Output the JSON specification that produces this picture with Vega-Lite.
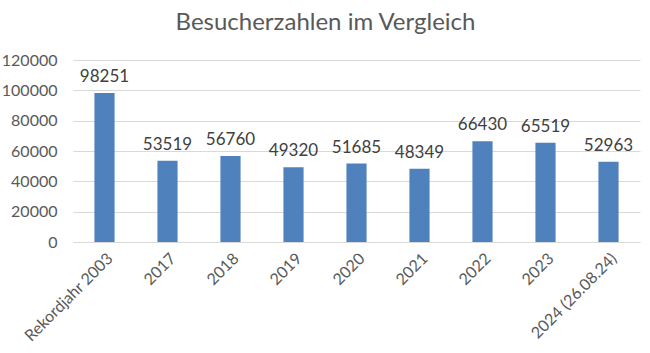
{
  "$schema": "https://vega.github.io/schema/vega-lite/v6.json",
  "autosize": "none",
  "width": 567,
  "height": 182,
  "padding": {"left": 73, "top": 60, "right": 10, "bottom": 111},
  "background": "white",
  "config": {"view": {"stroke": null}, "font": "Lato"},
  "title": {
    "text": "Besucherzahlen im Vergleich",
    "fontSize": 24,
    "font": "Lato",
    "fontWeight": "normal",
    "color": "#595959",
    "anchor": "middle",
    "dx": -31,
    "offset": 17
  },
  "data": {
    "values": [
      {"Jahr": "Rekordjahr 2003", "Besucher": 98251},
      {"Jahr": "2017", "Besucher": 53519},
      {"Jahr": "2018", "Besucher": 56760},
      {"Jahr": "2019", "Besucher": 49320},
      {"Jahr": "2020", "Besucher": 51685},
      {"Jahr": "2021", "Besucher": 48349},
      {"Jahr": "2022", "Besucher": 66430},
      {"Jahr": "2023", "Besucher": 65519},
      {"Jahr": "2024 (26.08.24)", "Besucher": 52963}
    ]
  },
  "encoding": {
    "x": {
      "field": "Jahr",
      "type": "nominal",
      "sort": null,
      "scale": {"paddingInner": 0.68, "paddingOuter": 0.34},
      "axis": {
        "title": null,
        "labelAngle": -45,
        "labelFontSize": 16,
        "labelColor": "#595959",
        "labelPadding": 8,
        "ticks": false,
        "domainColor": "#d9d9d9",
        "domainWidth": 1
      }
    },
    "y": {
      "field": "Besucher",
      "type": "quantitative",
      "scale": {"domain": [0, 120000], "nice": false},
      "axis": {
        "title": null,
        "values": [0, 20000, 40000, 60000, 80000, 100000, 120000],
        "format": "d",
        "labelFontSize": 16,
        "labelColor": "#595959",
        "labelPadding": 16,
        "ticks": false,
        "domain": false,
        "gridColor": "#d9d9d9",
        "gridWidth": 1
      }
    }
  },
  "layer": [
    {"mark": {"type": "bar", "color": "#4F81BD"}},
    {
      "mark": {"type": "text", "dy": -16, "fontSize": 17, "color": "#404040"},
      "encoding": {"text": {"field": "Besucher", "type": "quantitative", "format": "d"}}
    }
  ]
}
